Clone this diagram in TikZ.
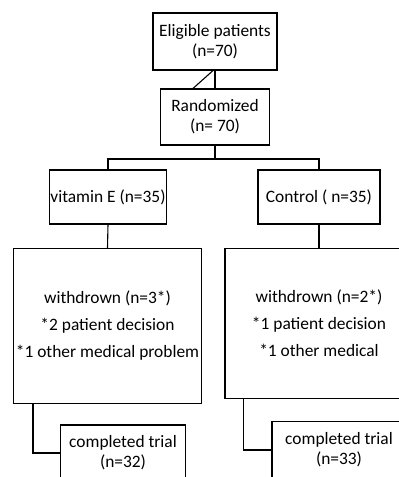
\documentclass[tikz,border=0pt]{standalone}
\usepackage{fontspec}
\setmainfont{Carlito}
\usetikzlibrary{calc}

\begin{document}
\begin{tikzpicture}[x=1pt,y=-1pt,line width=1.1pt,
    box/.style={draw,align=center,inner sep=0pt,font=\fontsize{17.4}{20}\selectfont},
    bigbox/.style={box,font=\fontsize{17.4}{27}\selectfont}]
            \clip (0,0) rectangle (399,477);
            \node[box,minimum width=124pt,minimum height=57pt] (elig) at (215,41.5) {Eligible patients\\(n=70)};
            \node[box,minimum width=109pt,minimum height=56pt] (rand) at (215,117) {Randomized\\(n= 70)};
            \node[box,minimum width=117pt,minimum height=54pt] (vit) at (108,197) {vitamin E (n=35)};
            \node[box,minimum width=122pt,minimum height=54pt] (ctrl) at (319,197) {Control ( n=35)};
            \node[bigbox,minimum width=188pt,minimum height=155pt] (wdL) at (107.5,326) {withdrown (n=3*)\\*2 patient decision\\*1 other medical problem};
            \node[bigbox,minimum width=188pt,minimum height=150pt] (wdR) at (319,323.5) {withdrown (n=2*)\\*1 patient decision\\*1 other medical};
            \node[box,minimum width=125pt,minimum height=56pt] (compL) at (123,453) {completed trial\\(n=32)};
            \node[box,minimum width=134pt,minimum height=57pt] (compR) at (339,450) {completed trial\\(n=33)};
            \coordinate (split) at (rand.south |- 0,159);
            \draw (elig.south) -- (rand.north);
            \draw ($ (elig.south)+(-2,0) $) -- ($ (rand.north)+(-22,0) $);
            \draw (rand.south) -- (split);
            \draw (vit.north) |- (split) -| (ctrl.north);
            \draw (vit.south) -- (wdL.north);
            \draw (ctrl.south) -- (wdR.north);
            \draw ($ (wdL.south west)+(20,0) $) |- (compL.west);
            \draw ($ (wdR.south west)+(19,0) $) |- (compR.west);
        \end{tikzpicture}
\end{document}
